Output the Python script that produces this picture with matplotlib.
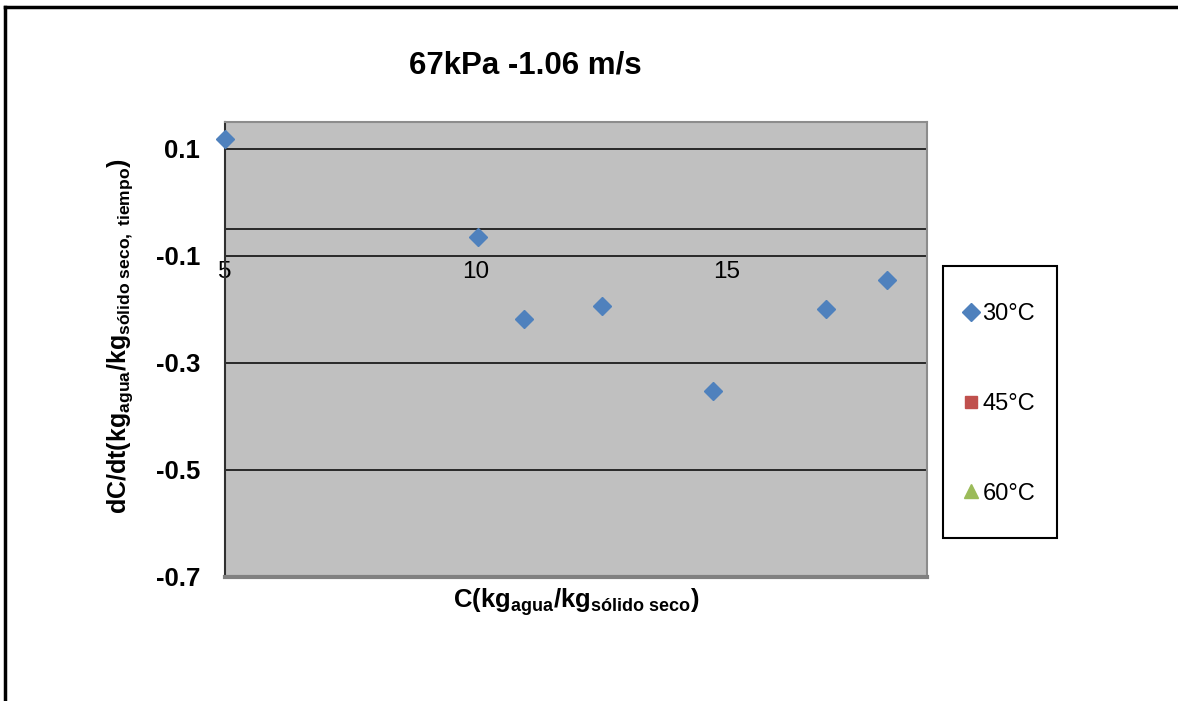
import matplotlib
matplotlib.use("Agg")
import matplotlib.pyplot as plt
from matplotlib.lines import Line2D
from matplotlib.patches import Rectangle

plt.rcParams['font.family'] = ['Liberation Sans', 'DejaVu Sans']
plt.rcParams['axes.unicode_minus'] = False
plt.rcParams['mathtext.fontset'] = 'custom'
plt.rcParams['mathtext.rm'] = 'Liberation Sans'
plt.rcParams['mathtext.bf'] = 'Liberation Sans:bold'
plt.rcParams['mathtext.it'] = 'Liberation Sans:italic'

# ---- data ----
title = "67kPa -1.06 m/s"
series_labels = ["30°C", "45°C", "60°C"]
c_30 = [5.0, 10.05, 10.96, 12.52, 14.73, 16.99, 18.21]
dcdt_30 = [0.119, -0.065, -0.218, -0.193, -0.352, -0.199, -0.146]
c_45 = []
dcdt_45 = []
c_60 = []
dcdt_60 = []
x_ticks = [5, 10, 15]
y_ticks = [0.1, -0.1, -0.3, -0.5, -0.7]
y_tick_labels = ["0.1", "-0.1", "-0.3", "-0.5", "-0.7"]
x_lim = (5, 19)
y_lim = (-0.7, 0.15)
x_axis_crossing = -0.1
extra_line = -0.05

W, H = 1178, 701
fig = plt.figure(figsize=(W / 100, H / 100), dpi=100)
ax = fig.add_axes([225 / W, 1 - 577 / H, 702 / W, 455 / H])
ax.set_facecolor('#C0C0C0')
ax.set_xlim(*x_lim)
ax.set_ylim(*y_lim)

# gridlines
ax.set_yticks(y_ticks)
ax.set_yticklabels(y_tick_labels, fontsize=18.5, fontweight='bold')
ax.tick_params(axis='y', length=0, pad=18)
ax.yaxis.grid(True, color='black', linewidth=1.1)
ax.axhline(extra_line, color='black', linewidth=1.1, zorder=1)
ax.set_axisbelow(True)

ax.set_xticks(x_ticks)
ax.tick_params(axis='x', length=0, labelbottom=False)

for s in ['top', 'right']:
    ax.spines[s].set_color('#8C8C8C')
    ax.spines[s].set_linewidth(1.5)
ax.spines['left'].set_color('#303030')
ax.spines['left'].set_linewidth(1.5)
ax.spines['bottom'].set_color('#808080')
ax.spines['bottom'].set_linewidth(3)

# x tick labels along the crossing line
frac = (x_axis_crossing - y_lim[0]) / (y_lim[1] - y_lim[0])
sec = ax.secondary_xaxis(frac)
sec.set_alignment('bottom')
sec.spines['bottom'].set_visible(False)
sec.spines['top'].set_visible(False)
sec.set_xticks(x_ticks)
sec.set_xticklabels([str(t) for t in x_ticks], fontsize=17.5)
sec.tick_params(axis='x', length=0, pad=4)

ax.plot(c_30, dcdt_30, linestyle='none', marker='D', markersize=9.5,
        color='#4F81BD', label=series_labels[0], clip_on=False, zorder=5)
ax.plot(c_45, dcdt_45, linestyle='none', marker='s', markersize=9,
        color='#C0504D', label=series_labels[1])
ax.plot(c_60, dcdt_60, linestyle='none', marker='^', markersize=10,
        color='#9BBB59', label=series_labels[2])

ax.set_title(title, fontsize=22.5, fontweight='bold', pad=0,
             x=(525 - 225) / 702, y=1 + 48 / 455)

ax.set_xlabel(r"$\mathbf{C(kg}_{\mathbf{agua}}\mathbf{/kg}_{\mathbf{sólido\ seco}}\mathbf{)}$",
              fontsize=18.5, labelpad=7)
ax.set_ylabel(r"$\mathbf{dC/dt(kg}_{\mathbf{agua}}\mathbf{/kg}_{\mathbf{sólido\ seco,\ tiempo}}\mathbf{)}$",
              fontsize=18)
ax.yaxis.set_label_coords(-0.128, 0.53)

# legend
leg = ax.legend(loc='center', bbox_to_anchor=(1000 / W, 1 - 404 / H),
                bbox_transform=fig.transFigure, frameon=False, fontsize=17,
                handlelength=0.5, handletextpad=0.25, labelspacing=2.87,
                borderpad=0)
fig.add_artist(Rectangle((943 / W, 1 - 538 / H), 114 / W, 272 / H,
                         transform=fig.transFigure, fill=False,
                         edgecolor='black', linewidth=1.5))

# outer frame (top and left edges)
fig.add_artist(Line2D([5.3 / W, 1], [1 - 7.3 / H, 1 - 7.3 / H],
                      transform=fig.transFigure, color='black', linewidth=2.5))
fig.add_artist(Line2D([5.3 / W, 5.3 / W], [0, 1 - 7.3 / H],
                      transform=fig.transFigure, color='black', linewidth=2.5))

fig.savefig("out.png", dpi=100)
